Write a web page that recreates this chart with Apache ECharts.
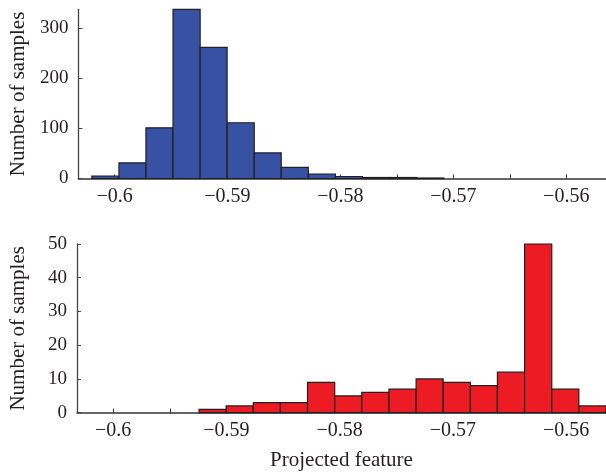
<!DOCTYPE html>
<html><head><meta charset="utf-8">
<script src="https://cdn.jsdelivr.net/npm/echarts@6/dist/echarts.min.js"></script>
<style>html,body{margin:0;padding:0;background:#fff}#c{width:606px;height:474px}</style>
</head><body><div id="c"></div><script>
// Histogram bin edges (projected feature)
const binEdges = [-0.60201,-0.59961,-0.59722,-0.59482,-0.59242,-0.59003,-0.58763,-0.58524,-0.58284,-0.58044,
  -0.57805,-0.57565,-0.57325,-0.57086,-0.56846,-0.56607,-0.56367,-0.56127,-0.55888,-0.55648];
const topCounts = [5,31,101,337,261,111,51,22,9,4,2,2,1,0,0,0,0,0,0];
const bottomCounts = [0,0,0,0,1,2,3,3,9,5,6,7,10,9,8,12,50,7,2];
const xTickValues = [-0.6,-0.595,-0.59,-0.585,-0.58,-0.575,-0.57,-0.565,-0.56];
const xLabelValues = [-0.6,-0.59,-0.58,-0.57,-0.56];
const topYTicks = [0,100,200,300];
const bottomYTicks = [0,10,20,30,40,50];
const xMin = -0.6032, xMax = -0.55648;
const topYMax = 337, bottomYMax = 50;

const FONT = 'Liberation Serif';
const ink = '#231f20';

function fmtX(v){
  let s = (Math.round(v*100)/100).toFixed(2);
  s = s.replace(/0+$/,'').replace(/\.$/,'');
  return s.replace('-', '\u2212');
}
function mkData(counts){
  return counts.map((c,i)=>[binEdges[i], binEdges[i+1], c]);
}
function renderer(color){
  return function(params, api){
    const v = api.value(2);
    if (!v) return;
    const p0 = api.coord([api.value(0), v]);
    const p1 = api.coord([api.value(1), 0]);
    return {type:'rect', shape:{x:p0[0], y:p0[1], width:p1[0]-p0[0], height:p1[1]-p0[1]},
      style:{fill:color, stroke:ink, lineWidth:1.2}};
  };
}
function xAxis(idx, withName){
  const a = {
    type:'value', gridIndex:idx, min:xMin, max:xMax,
    axisLine:{show:true, onZero:false, lineStyle:{color:'#333', width:1.5}},
    axisTick:{show:true, inside:true, length:4, customValues:xTickValues, lineStyle:{color:'#333', width:1}},
    axisLabel:{customValues:xLabelValues, formatter:fmtX, fontFamily:FONT, fontSize:20, color:ink, margin:8},
    splitLine:{show:false}
  };
  if (withName){
    a.name = 'Projected feature'; a.nameLocation='middle'; a.nameGap=37;
    a.nameTextStyle = {fontFamily:FONT, fontSize:21, color:ink};
  }
  return a;
}
function yAxis(idx, max, ticks){
  return {
    type:'value', gridIndex:idx, min:0, max:max,
    name:'Number of samples', nameLocation:'middle', nameGap:48,
    nameTextStyle:{fontFamily:FONT, fontSize:21, color:ink},
    axisLine:{show:true, lineStyle:{color:'#444', width:1.3}},
    axisTick:{show:true, inside:true, length:4, customValues:ticks, lineStyle:{color:'#444', width:1}},
    axisLabel:{customValues:ticks, fontFamily:FONT, fontSize:19, color:ink, margin:10},
    splitLine:{show:false}
  };
}
const chart = echarts.init(document.getElementById('c'), null, {renderer:'canvas'});
chart.setOption({
  animation:false,
  backgroundColor:'#fff',
  grid:[
    {left:77, right:0, top:9.3, height:169.2},
    {left:77, right:0, top:244, height:168.7}
  ],
  xAxis:[xAxis(0,false), xAxis(1,true)],
  yAxis:[yAxis(0, topYMax, topYTicks), yAxis(1, bottomYMax, bottomYTicks)],
  series:[
    {type:'custom', xAxisIndex:0, yAxisIndex:0, renderItem:renderer('#3752a3'), data:mkData(topCounts), encode:{x:[0,1], y:2}},
    {type:'custom', xAxisIndex:1, yAxisIndex:1, renderItem:renderer('#ed1c24'), data:mkData(bottomCounts), encode:{x:[0,1], y:2}}
  ]
});
</script></body></html>
